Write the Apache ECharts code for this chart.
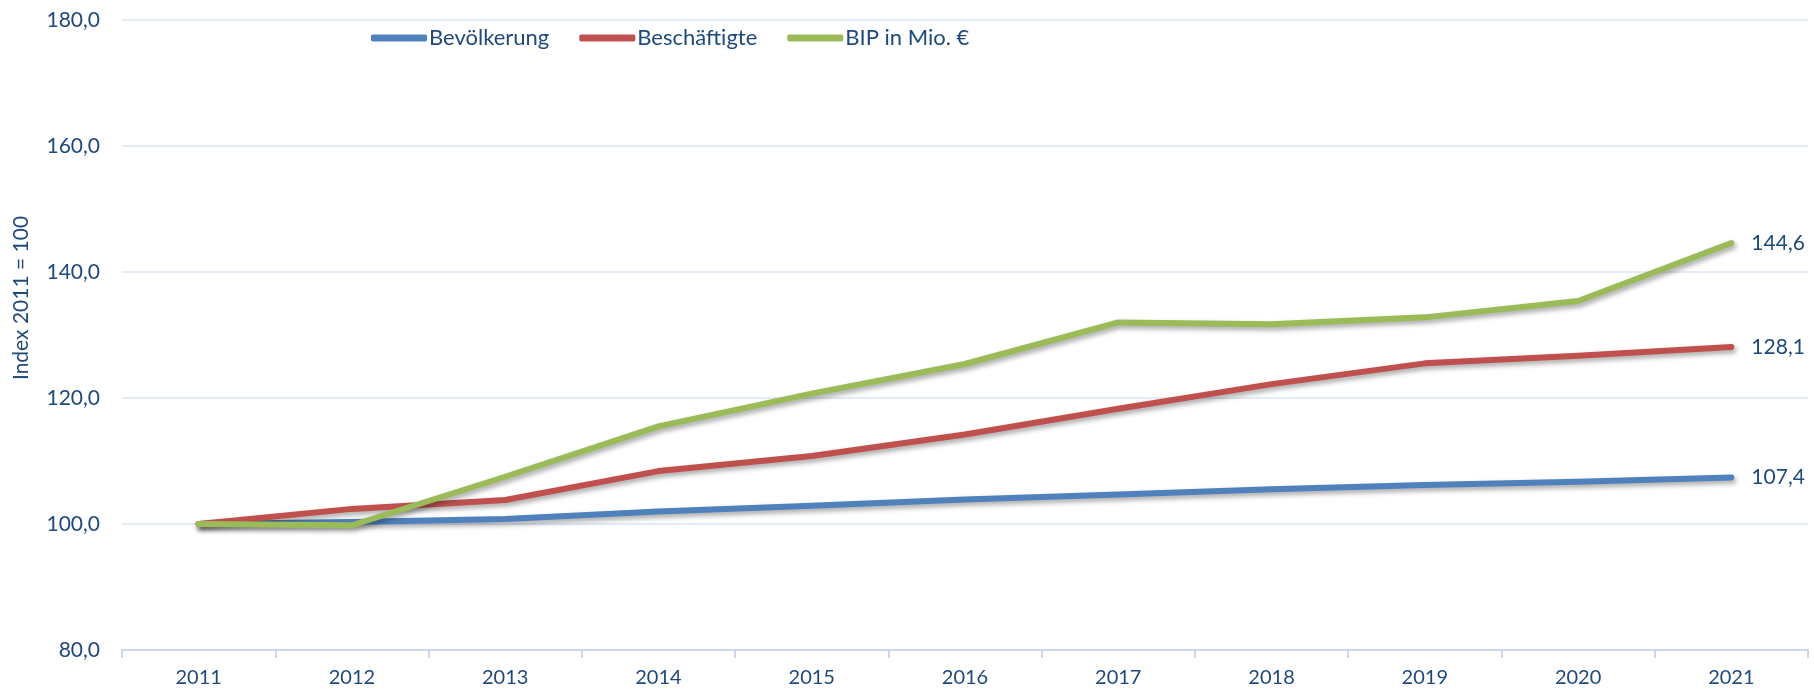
<!DOCTYPE html>
<html>
<head>
<meta charset="utf-8">
<script src="https://cdn.jsdelivr.net/npm/echarts@6/dist/echarts.min.js"></script>
<style>
html,body{margin:0;padding:0;background:#fff;}
#c{width:1814px;height:692px;}
</style>
</head>
<body>
<div id="c"></div>
<script>
const categories = ['2011','2012','2013','2014','2015','2016','2017','2018','2019','2020','2021'];
const bevoelkerung = [100.0, 100.3, 100.8, 102.0, 102.9, 103.9, 104.7, 105.5, 106.2, 106.7, 107.4];
const beschaeftigte = [100.0, 102.4, 103.8, 108.4, 110.8, 114.2, 118.3, 122.2, 125.5, 126.7, 128.1];
const bip = [100.0, 99.8, 107.5, 115.5, 120.7, 125.4, 132.0, 131.7, 132.8, 135.4, 144.6];
const seriesNames = ['Bevölkerung', 'Beschäftigte', 'BIP in Mio. €'];
const yTicks = [80, 100, 120, 140, 160, 180];

const txt = '#1F497D';
const fontFamily = 'Lato, "Noto Sans", sans-serif';
const fmt = v => Number(v).toFixed(1).replace('.', ',');

const colors = ['#4F81BD', '#C0504D', '#9BBB59'];
const datas = [bevoelkerung, beschaeftigte, bip];

const chart = echarts.init(document.getElementById('c'));
chart.setOption({
  animation: false,
  backgroundColor: '#fff',
  textStyle: { fontFamily: fontFamily },
  grid: { left: 122, right: 6, top: 20, bottom: 42 },
  legend: {
    left: 366, top: 22,
    itemWidth: 56, itemHeight: 7, itemGap: 30,
    icon: 'roundRect',
    textStyle: { color: txt, fontSize: 22, fontFamily: fontFamily, padding: [0,0,0,-3] },
    data: seriesNames
  },
  xAxis: {
    type: 'category',
    data: categories,
    boundaryGap: true,
    axisLine: { lineStyle: { color: '#C9D8EE', width: 2 } },
    axisTick: { show: true, length: 8, lineStyle: { color: '#C9D8EE', width: 2 } },
    axisLabel: { color: txt, fontSize: 20, margin: 18, fontFamily: fontFamily }
  },
  yAxis: {
    type: 'value',
    min: yTicks[0], max: yTicks[yTicks.length-1], interval: 20,
    name: 'Index 2011 = 100',
    nameLocation: 'middle',
    nameGap: 90,
    nameRotate: 90,
    nameTextStyle: { color: txt, fontSize: 21, fontFamily: fontFamily, padding: [0, 0, 0, 74] },
    axisLine: { show: false },
    axisTick: { show: false },
    axisLabel: { color: txt, fontSize: 21, margin: 22, formatter: v => fmt(v), fontFamily: fontFamily },
    splitLine: { lineStyle: { color: '#DCE6F4', width: 1.5 } }
  },
  series: seriesNames.map((n, i) => ({
    name: n,
    type: 'line',
    data: datas[i],
    showSymbol: false,
    symbol: 'none',
    color: colors[i],
    lineStyle: {
      width: 6, color: colors[i], cap: 'round', join: 'round',
      shadowColor: 'rgba(0,0,0,0.35)', shadowBlur: 5, shadowOffsetX: 2, shadowOffsetY: 3
    },
    endLabel: {
      show: true,
      formatter: p => fmt(p.value),
      color: txt, fontSize: 21, distance: 20, fontFamily: fontFamily
    },
    z: 2 + i
  }))
});
</script>
</body>
</html>
